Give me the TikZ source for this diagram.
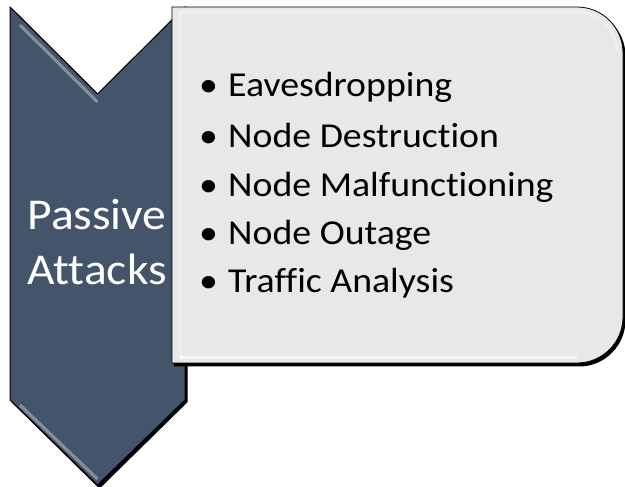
\documentclass[tikz,border=0pt]{standalone}
\usepackage{fontspec}
\setmainfont{Carlito}[Ligatures={NoCommon},FakeStretch=1.08]
\usetikzlibrary{calc}
\definecolor{slateblue}{RGB}{68,84,106}
\definecolor{panelgray}{RGB}{232,232,232}
\tikzset{
	every picture/.style={x=1pt,y=1pt},
	chevron/.style={fill=slateblue,draw=black,line width=1pt,line join=miter},
	panel/.style={fill=panelgray,draw=black,line width=0.8pt},
	castshadow/.style={fill=black,draw=black,line width=1pt},
	bevel/.style={draw=white,opacity=0.6,line width=3pt},
	headtext/.style={text=white,font=\fontsize{44}{52}\selectfont,anchor=base,inner sep=0pt},
	itemtext/.style={text=black,font=\fontsize{35}{42}\selectfont,anchor=base west,inner sep=0pt}
}
\begin{document}
\begin{tikzpicture}
\useasboundingbox (0,0) rectangle (625,487);
% chevron pointing down
\fill[castshadow] (12,478) -- (99.5,391) -- (187,478) -- (187,85) -- (99.5,-1) -- (12,85) -- cycle;
\draw[chevron] (10,480) -- (97.5,393) -- (185,480) -- (185,87) -- (97.5,2) -- (10,87) -- cycle;
\draw[bevel,opacity=0.35] (20,462) -- (97.5,385);
\draw[bevel,opacity=0.35] (20,82) -- (97.5,8);
% panel with rounded right side
\fill[castshadow] (174,477) -- (579,477) arc[start angle=90,end angle=0,radius=46] -- (625,167) arc[start angle=0,end angle=-90,radius=46] -- (174,121) -- cycle;
\draw[panel] (172,480) -- (577,480) arc[start angle=90,end angle=0,radius=46] -- (623,170) arc[start angle=0,end angle=-90,radius=46] -- (172,124) -- cycle;
\draw[bevel] (180,129) -- (577,129);
\draw[bevel,opacity=0.3] (180,475) -- (577,475) arc[start angle=90,end angle=0,radius=40];
\draw[bevel,opacity=0.3] (180,129) -- (180,475);
% heading
\node[headtext] (passive) at (97,257) {Passive};
\node[headtext] (attacks) at (97,202) {Attacks};
% attack list
\foreach \name/\label/\ypos in {eaves/Eavesdropping/390, destr/Node Destruction/339,
	malf/Node Malfunctioning/290, outage/Node Outage/242, traffic/Traffic Analysis/194}{
	\node[itemtext] (b\name) at (199,\ypos) {\textbullet};
	\node[itemtext] (\name) at (228,\ypos) {\label};
}
\end{tikzpicture}
\end{document}
